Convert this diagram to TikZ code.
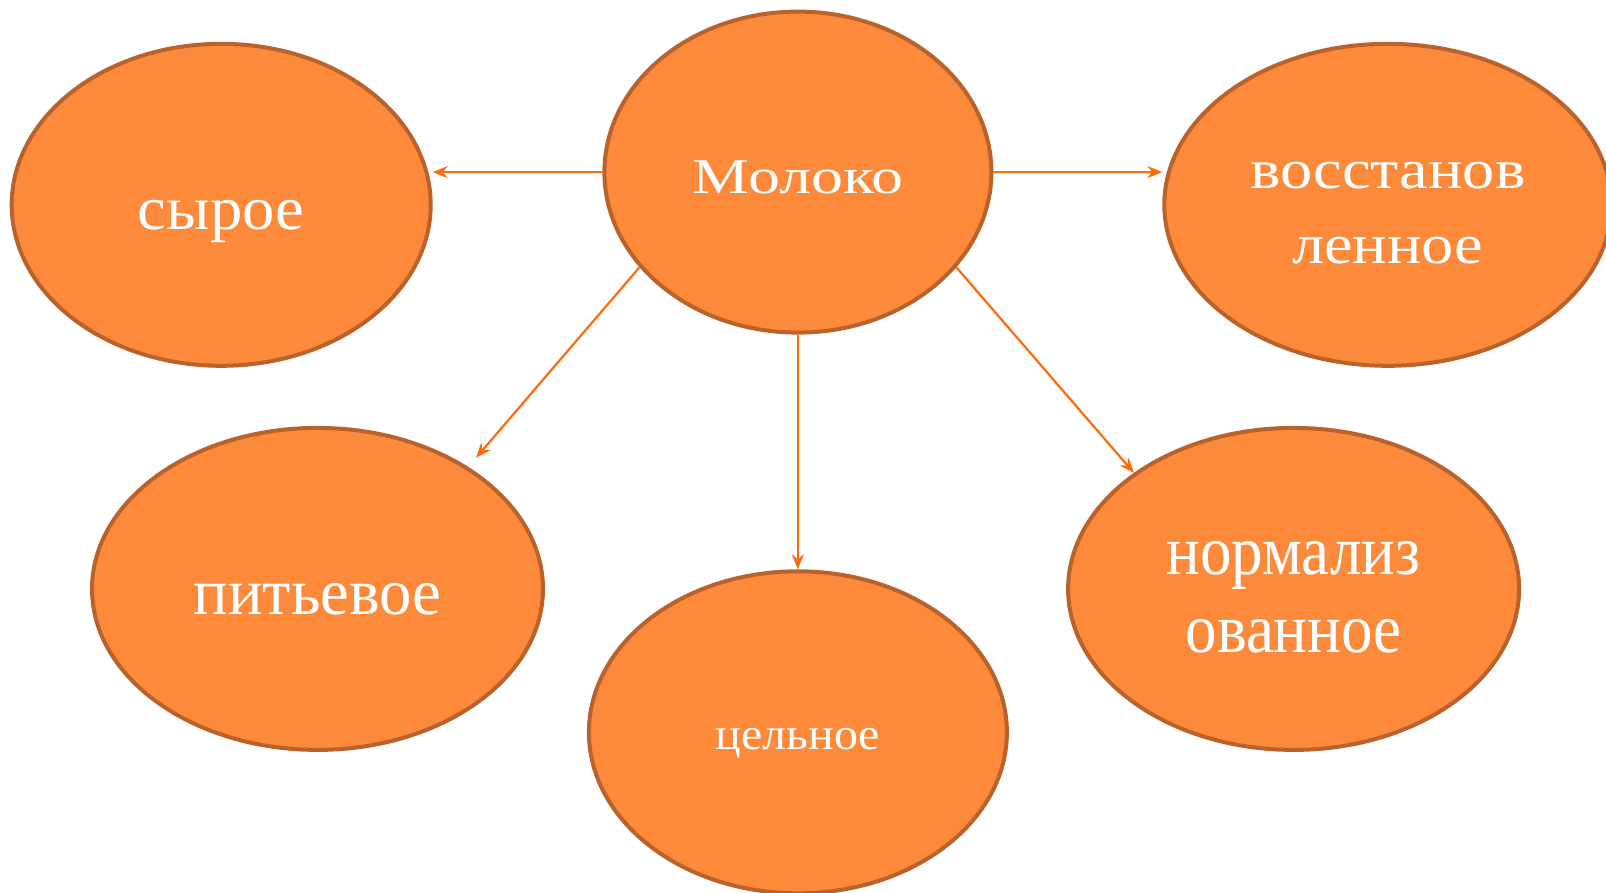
\documentclass[tikz,border=0pt]{standalone}
\usepackage{fontspec}
\setmainfont{Liberation Serif}
\usetikzlibrary{shapes.geometric,arrows.meta}
\definecolor{milkfill}{HTML}{FD8A3A}
\definecolor{milkline}{HTML}{BA622B}
\definecolor{milkarrow}{HTML}{FF6A0D}
% size, baselineskip, horizontal stretch
\newcommand{\milkfont}[3]{\fontsize{#1}{#2}\selectfont\addfontfeatures{FakeStretch=#3}}
\begin{document}
\begin{tikzpicture}[x=1pt,y=-1pt,
  oval/.style={ellipse,draw=milkline,line width=4pt,fill=milkfill,text=white,inner sep=0pt,align=center,text depth=0pt},
  link/.style={draw=milkarrow,line width=2.2pt,-{Stealth[length=15pt,width=12pt,inset=5pt]}}]
\useasboundingbox (0,0) rectangle (1606,892);
% centre and kinds of milk
\node[oval,minimum width=387pt,minimum height=321pt,text height=42pt,font=\milkfont{50}{60}{1.28}] (milk) at (797.9,172.1) {Молоко};
\node[oval,minimum width=419pt,minimum height=322pt,text height=50pt,font=\milkfont{62}{74}{1.045}] (raw) at (221.2,204.8) {сырое};
\node[oval,minimum width=447pt,minimum height=322pt,text height=118pt,font=\milkfont{56}{75}{1.15}] (restored) at (1387.8,204.8) {восстанов\\ленное};
\node[oval,minimum width=451pt,minimum height=322pt,text height=52pt,font=\milkfont{66}{78}{0.98}] (drink) at (317.5,588.9) {питьевое};
\node[oval,minimum width=418pt,minimum height=322pt,text height=35pt,font=\milkfont{45}{54}{1.066}] (whole) at (797.9,732.3) {цельное};
\node[oval,minimum width=451pt,minimum height=322pt,text height=128pt,font=\milkfont{70}{78}{0.9}] (norm) at (1293.6,588.9) {нормализ\\ованное};
% arrows
\draw[link] (milk.west) -- (milk.west -| raw.east);
\draw[link] (milk.east) -- (milk.east -| restored.west);
\draw[link,shorten >=12pt] (milk.211) -- (drink.39);
\draw[link] (milk.south) -- (whole.north);
\draw[link] (milk.329) -- (norm.144);
\end{tikzpicture}
\end{document}
